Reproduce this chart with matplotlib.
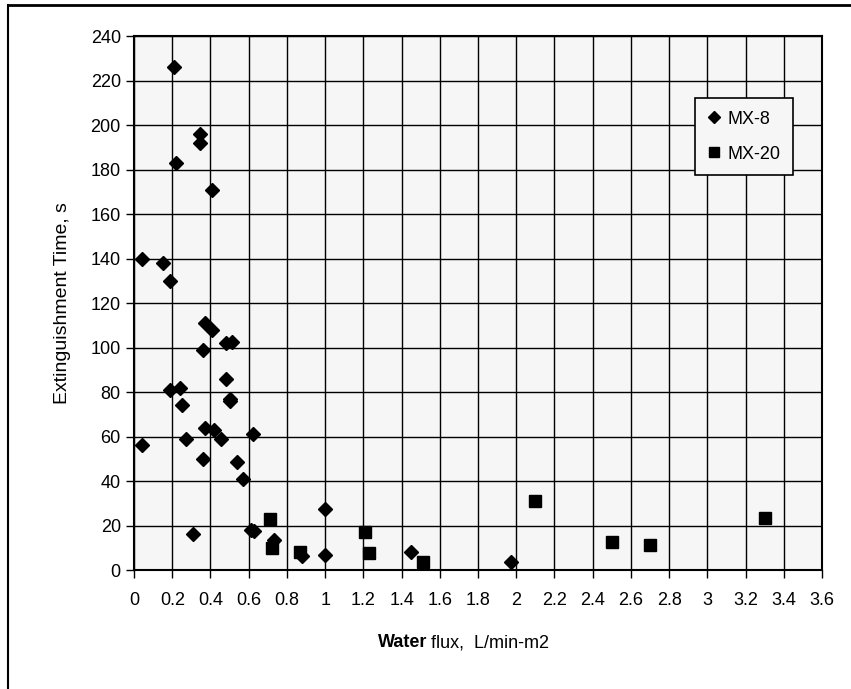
import numpy as np
import matplotlib.pyplot as plt
from matplotlib.lines import Line2D

plt.rcParams['font.family'] = ['Liberation Sans', 'DejaVu Sans']

# MX-8 series (diamonds)
mx8_flux = [0.04, 0.04, 0.15, 0.19, 0.21, 0.22, 0.19, 0.24, 0.25, 0.27,
            0.31, 0.345, 0.345, 0.41, 0.37, 0.41, 0.36, 0.37, 0.36, 0.42,
            0.455, 0.48, 0.51, 0.48, 0.50, 0.50, 0.54, 0.57, 0.62, 0.61,
            0.63, 0.73, 0.88, 1.0, 1.0, 1.45, 1.97]
mx8_time = [140, 56, 138, 130, 226, 183, 81, 82, 74, 59,
            16, 196, 192, 171, 111, 108, 99, 64, 50, 63,
            59, 102, 102.5, 86, 77, 76, 48.5, 41, 61, 18,
            17.6, 13.5, 6.5, 27.4, 6.7, 8, 3.6]

# MX-20 series (squares)
mx20_flux = [0.71, 0.72, 0.87, 1.21, 1.23, 1.51, 2.10, 2.50, 2.70, 3.30]
mx20_time = [23, 10, 8, 17, 7.6, 3.6, 31, 12.6, 11.3, 23.4]

x_ticks = np.round(np.arange(0, 3.61, 0.2), 1)
x_tick_labels = ['0', '0.2', '0.4', '0.6', '0.8', '1', '1.2', '1.4', '1.6', '1.8',
                 '2', '2.2', '2.4', '2.6', '2.8', '3', '3.2', '3.4', '3.6']
y_ticks = np.arange(0, 241, 20)

fig = plt.figure(figsize=(8.51, 6.89), dpi=100)
ax = fig.add_axes([0.1575, 0.1727, 0.8085, 0.775])
ax.set_facecolor('#f6f6f6')

ax.plot(mx8_flux, mx8_time, linestyle='none', marker='D', ms=6.8,
        color='black', label='MX-8')
ax.plot(mx20_flux, mx20_time, linestyle='none', marker='s', ms=8.5,
        color='black', label='MX-20')

ax.set_xlim(0, 3.6)
ax.set_ylim(0, 240)
ax.set_xticks(x_ticks)
ax.set_xticklabels(x_tick_labels)
ax.set_yticks(y_ticks)
ax.grid(True, color='black', linewidth=1.0)
ax.tick_params(axis='both', labelsize=13, length=6, color='black', width=1.0)
ax.tick_params(axis='x', pad=10)
for s in ax.spines.values():
    s.set_linewidth(1.5)

ax.set_ylabel('Extinguishment Time, s', fontsize=14, labelpad=14)

fig.text(0.502, 0.067, 'Water', fontsize=13, fontweight='bold', ha='right', va='center')
fig.text(0.506, 0.067, 'flux,  L/min-m2', fontsize=13, ha='left', va='center')

leg = ax.legend(loc='upper right', bbox_to_anchor=(0.958, 0.884), fontsize=13,
                fancybox=False, framealpha=1, edgecolor='black',
                handlelength=0.7, handletextpad=0.4, borderpad=0.7,
                labelspacing=1.0, borderaxespad=0, markerscale=0.85,
                facecolor='#f6f6f6')
leg.get_frame().set_linewidth(1.2)

# outer frame of the scanned figure
fig.add_artist(Line2D([0.009, 1.0], [0.993, 0.993], color='black', lw=2,
                      transform=fig.transFigure))
fig.add_artist(Line2D([0.009, 0.009], [0.0, 0.993], color='black', lw=1.5,
                      transform=fig.transFigure))

fig.savefig('out.png', dpi=100)
